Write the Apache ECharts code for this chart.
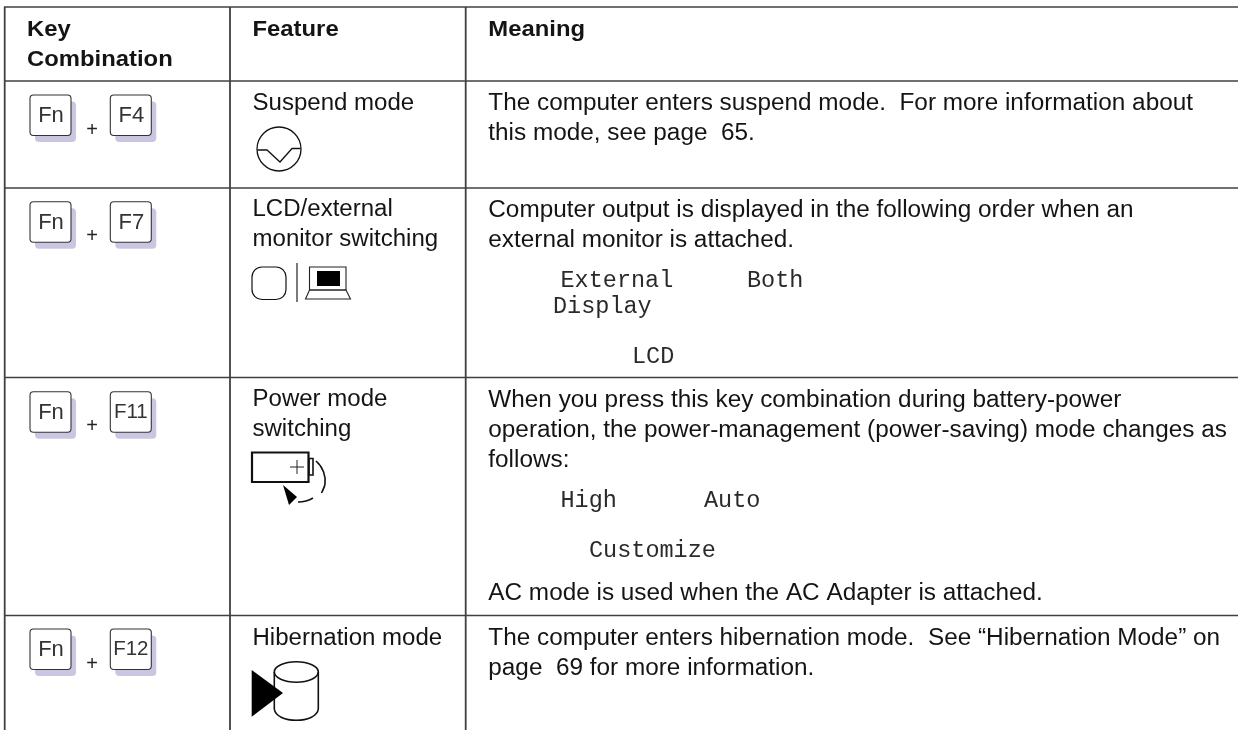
<!DOCTYPE html>
<html><head><meta charset="utf-8"><style>html,body{margin:0;padding:0;background:#fff}#c{width:1238px;height:730px}</style>
<script src="https://cdn.jsdelivr.net/npm/echarts@6/dist/echarts.min.js"></script></head><body><div id="c"></div>
<script>
const headerKey = ["Key","Combination"];
const headerFeature = "Feature";
const headerMeaning = "Meaning";
const keyNames = [["Fn","F4"],["Fn","F7"],["Fn","F11"],["Fn","F12"]];
const featureNames = [["Suspend mode"],["LCD/external","monitor switching"],["Power mode","switching"],["Hibernation mode"]];
const meaningRow1 = ["The computer enters suspend mode.  For more information about","this mode, see page  65."];
const meaningRow2 = ["Computer output is displayed in the following order when an","external monitor is attached."];
const meaningRow3 = ["When you press this key combination during battery-power","operation, the power-management (power-saving) mode changes as","follows:"];
const meaningRow3Note = "AC mode is used when the AC Adapter is attached.";
const meaningRow4 = ["The computer enters hibernation mode.  See “Hibernation Mode” on","page  69 for more information."];
const displayCycle = ["External","Both","Display","LCD"];
const powerCycle = ["High","Auto","Customize"];

const SANS='"Liberation Sans",Arial,sans-serif', MONO='"Liberation Mono",monospace';
const INK='#141414', RULE='#404040', SHADOW='#c9c6e2';
const rowY=[7,81,188,377.5,615.5], colX=[4.7,230,465.7];
const textX=[27,252.5,488.3];
const els=[];
function T(t,x,base,size,o){o=o||{};const f=o.family||SANS;
  els.push({type:'text',silent:true,z:5,x:x,y:base-size*0.347,scaleX:o.sx||1,style:{text:t,x:0,y:0,fill:o.fill||INK,font:(o.weight?o.weight+' ':'')+size+'px '+f,align:o.align||'left',verticalAlign:'middle'}});}
function L(x1,y1,x2,y2,c,w){els.push({type:'line',z:2,silent:true,shape:{x1,y1,x2,y2},style:{stroke:c||'#111',lineWidth:w||1.3}});}
function R(x,y,w,h,s){els.push({type:'rect',z:s.z||3,silent:true,shape:{x,y,width:w,height:h,r:s.r||0},style:{fill:s.fill||'none',stroke:s.stroke||null,lineWidth:s.lw||1}});}
function P(pts,s){els.push({type:'polygon',z:s.z||3,silent:true,shape:{points:pts},style:{fill:s.fill||'none',stroke:s.stroke||null,lineWidth:s.lw||1}});}
function PL(pts,w){els.push({type:'polyline',z:3,silent:true,shape:{points:pts},style:{fill:'none',stroke:'#111',lineWidth:w||1.3}});}
function B(x1,y1,cx1,cy1,cx2,cy2,x2,y2,w){els.push({type:'bezierCurve',z:3,silent:true,shape:{x1,y1,x2,y2,cpx1:cx1,cpy1:cy1,cpx2:cx2,cpy2:cy2},style:{fill:'none',stroke:'#111',lineWidth:w||1.5}});}

// rules
rowY.forEach(y=>L(colX[0]-0.7,y,1238,y,RULE,1.5));
colX.forEach(x=>L(x,rowY[0],x,730,RULE,1.8));

// header
const hd={weight:'bold',sx:1.06};
T(headerKey[0],textX[0],38,22.5,hd);
T(headerKey[1],textX[0],68,22.5,hd);
T(headerFeature,textX[1],38,22.5,hd);
T(headerMeaning,textX[2],38,22.5,hd);

// keys
const keyTops=[95,201.7,391.7,629];
keyNames.forEach((pair,i)=>{
  const top=keyTops[i];
  [30,110.3].forEach((x,j)=>{
    R(x+5,top+6.5,41,40.5,{fill:SHADOW,r:4,z:2});
    R(x,top,41,40.5,{fill:'#fff',stroke:'#333',lw:1.1,r:3.5,z:3});
    const long=pair[j].length>2;
    const size=long?20.5:22;
    T(pair[j],x+(long?20.5:21),top+(long?27.5:29),size,{align:'center',fill:'#333'});
  });
  T('+',92,top+42,20,{align:'center',fill:'#222'});
});

// feature text
const featBase=[[112],[218,248],[408,438],[646.5]];
const fs={sx:1.045};
featureNames.forEach((rows,i)=>rows.forEach((t,j)=>T(t,textX[1],featBase[i][j],23,fs)));

// meaning text
const ms={sx:1.058};
const put=(rows,bases)=>rows.forEach((t,j)=>T(t,textX[2],bases[j],23,ms));
put(meaningRow1,[111.7,141.7]);
put(meaningRow2,[218.3,249]);
put(meaningRow3,[408.7,438.7,468.7]);
T(meaningRow3Note,textX[2],602,23,ms);
put(meaningRow4,[646.7,676.7]);

// monospace diagrams
const mono={family:MONO,fill:'#2a2a2a'};
const dPos=[[560.5,289],[747,289],[553,315],[632,365]];
displayCycle.forEach((t,i)=>T(t,dPos[i][0],dPos[i][1],23.5,mono));
const pPos=[[560.5,508.7],[704,508.7],[589,559]];
powerCycle.forEach((t,i)=>T(t,pPos[i][0],pPos[i][1],23.5,mono));

// suspend icon
els.push({type:'circle',z:3,silent:true,shape:{cx:279,cy:149,r:22},style:{fill:'none',stroke:'#111',lineWidth:1.3}});
PL([[257.5,150],[267,150],[280,162],[292,148.5],[300.5,148.5]]);

// monitor / laptop icon
R(252,267,34,32.5,{stroke:'#111',lw:1.2,r:10});
L(297,263,297,302,'#222',1.2);
R(309.5,267,36.5,23,{stroke:'#222',lw:1.1});
R(317,271,23,15,{fill:'#000'});
P([[309.5,290],[346,290],[350.5,299],[305.5,299]],{stroke:'#222',lw:1.1});

// battery icon
R(252,452.5,56.5,29.5,{stroke:'#111',lw:2.2});
R(309,458.5,4,16.5,{stroke:'#111',lw:1.6});
L(290,467,304,467,'#222',1);
L(297,460,297,474,'#222',1);
B(316,461,323,467,326,476,325,484,1.6);
B(325,484,324.5,487,323,490,321.5,493,1.6);
B(313,498,309,500.5,304,502,298,502,1.6);
P([[283,485],[297,497],[289,505]],{fill:'#000'});

// hibernation icon
els.push({type:'ellipse',z:3,silent:true,shape:{cx:296.3,cy:672,rx:22,ry:10.2},style:{fill:'none',stroke:'#111',lineWidth:1.6}});
L(274.3,672,274.3,709,'#111',1.6);
L(318.3,672,318.3,709,'#111',1.6);
B(274.3,709,276,724,316.6,724,318.3,709,1.6);
P([[251.7,670],[283,693],[251.7,716.7]],{fill:'#000',z:4});

const chart=echarts.init(document.getElementById('c'),null,{renderer:'canvas'});
chart.setOption({animation:false,backgroundColor:'#fff',graphic:{elements:els}});
</script>
</body></html>
